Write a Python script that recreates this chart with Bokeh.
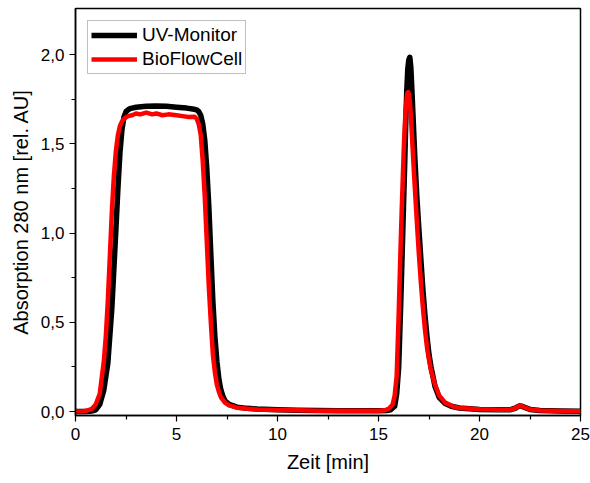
from bokeh.plotting import figure
from bokeh.models import Range1d, FixedTicker, CustomJSTickFormatter, Legend, LegendItem
from bokeh.embed import file_html
from bokeh.resources import INLINE

# UV-Monitor (black)
uv_t = [0, 0.5, 0.8, 1.0, 1.2, 1.4, 1.6, 1.8, 1.9, 2.0, 2.1, 2.2, 2.3, 2.4, 2.5, 2.6, 2.7, 2.8,
        3.0, 3.5, 4.0, 4.5, 5.0, 5.5, 5.8, 6.0, 6.1, 6.2, 6.3, 6.4, 6.5, 6.6, 6.7, 6.8, 6.9, 7.0,
        7.1, 7.2, 7.3, 7.4, 7.6, 8.0, 8.5, 9, 10, 11, 12, 13, 14, 15, 15.4, 15.6, 15.8, 15.9, 16.0,
        16.1, 16.15, 16.2, 16.25, 16.3, 16.35, 16.4, 16.45, 16.5, 16.55, 16.6, 16.65, 16.7, 16.75,
        16.8, 16.9, 17.0, 17.1, 17.2, 17.3, 17.4, 17.5, 17.6, 17.8, 18.0, 18.3, 18.6, 19, 20, 21,
        21.5, 21.8, 21.9, 22.0, 22.1, 22.2, 22.5, 23, 24, 25]
uv_a = [0.0, 0.0, 0.003, 0.01, 0.04, 0.12, 0.27, 0.58, 0.8, 1.02, 1.25, 1.45, 1.58, 1.65, 1.68,
        1.69, 1.697, 1.70, 1.705, 1.71, 1.712, 1.71, 1.705, 1.70, 1.695, 1.69, 1.68, 1.66, 1.61,
        1.52, 1.36, 1.15, 0.88, 0.62, 0.42, 0.28, 0.18, 0.12, 0.085, 0.06, 0.04, 0.025, 0.018,
        0.014, 0.01, 0.008, 0.006, 0.005, 0.005, 0.005, 0.006, 0.01, 0.03, 0.1, 0.25, 0.6, 0.8,
        1.0, 1.2, 1.4, 1.62, 1.8, 1.92, 1.97, 1.985, 1.93, 1.81, 1.68, 1.55, 1.42, 1.2, 1.02, 0.85,
        0.68, 0.54, 0.42, 0.32, 0.25, 0.14, 0.08, 0.045, 0.03, 0.02, 0.012, 0.01, 0.01, 0.02,
        0.028, 0.032, 0.03, 0.025, 0.012, 0.006, 0.003, 0.002]

# BioFlowCell (red)
bfc_t = [0, 0.4, 0.6, 0.8, 1.0, 1.2, 1.4, 1.5, 1.6, 1.7, 1.8, 1.9, 2.0, 2.1, 2.2, 2.3, 2.4, 2.5,
         2.6, 2.8, 3.0, 3.2, 3.5, 3.8, 4.0, 4.3, 4.6, 5.0, 5.3, 5.6, 5.9, 6.0, 6.1, 6.2, 6.3, 6.4,
         6.5, 6.6, 6.7, 6.8, 6.9, 7.0, 7.1, 7.2, 7.4, 7.6, 8, 8.5, 9, 10, 11, 12, 13, 14, 15, 15.3,
         15.5, 15.7, 15.8, 15.9, 16.0, 16.05, 16.1, 16.15, 16.2, 16.25, 16.3, 16.35, 16.4, 16.43,
         16.47, 16.5, 16.55, 16.6, 16.65, 16.7, 16.75, 16.8, 16.9, 17.0, 17.1, 17.2, 17.3, 17.4,
         17.5, 17.6, 17.8, 18.0, 18.3, 18.7, 19, 20, 21, 21.5, 21.8, 21.9, 22.0, 22.1, 22.2, 22.5,
         23, 24, 25]
bfc_a = [0.0, 0.002, 0.006, 0.015, 0.04, 0.1, 0.28, 0.42, 0.62, 0.87, 1.12, 1.32, 1.46, 1.55, 1.6,
         1.625, 1.64, 1.648, 1.655, 1.66, 1.67, 1.665, 1.675, 1.665, 1.67, 1.66, 1.665, 1.66, 1.655,
         1.65, 1.652, 1.64, 1.61, 1.55, 1.4, 1.2, 0.95, 0.7, 0.5, 0.32, 0.22, 0.15, 0.11, 0.08, 0.05,
         0.035, 0.022, 0.016, 0.012, 0.009, 0.007, 0.005, 0.004, 0.004, 0.005, 0.007, 0.015, 0.04,
         0.09, 0.2, 0.55, 0.75, 0.95, 1.13, 1.3, 1.47, 1.6, 1.7, 1.76, 1.785, 1.79, 1.78, 1.74,
         1.66, 1.56, 1.45, 1.35, 1.25, 1.06, 0.88, 0.72, 0.58, 0.46, 0.36, 0.29, 0.23, 0.15, 0.09,
         0.05, 0.028, 0.02, 0.013, 0.01, 0.01, 0.02, 0.029, 0.033, 0.03, 0.025, 0.012, 0.006,
         0.003, 0.002]

x_ticks = [0, 5, 10, 15, 20, 25]
x_minor = [2.5, 7.5, 12.5, 17.5, 22.5]
y_ticks = [0.0, 0.5, 1.0, 1.5, 2.0]
y_minor = [0.25, 0.75, 1.25, 1.75]

FONT = "Liberation Sans"

p = figure(width=590, height=483, output_backend="svg", toolbar_location=None,
           x_range=Range1d(0, 25), y_range=Range1d(-0.022, 2.258),
           min_border_left=75, min_border_right=10, min_border_top=8, min_border_bottom=68)
p.grid.visible = False
p.outline_line_color = "black"
p.outline_line_width = 1.5
p.background_fill_color = "white"
p.border_fill_color = "white"

r1 = p.line(uv_t, uv_a, line_color="black", line_width=5.5, line_join="round")
r2 = p.line(bfc_t, bfc_a, line_color="#ff0000", line_width=4.5, line_join="round")

for ax in (p.xaxis[0], p.yaxis[0]):
    ax.axis_line_color = "black"
    ax.axis_line_width = 1.5
    ax.major_tick_line_color = "black"
    ax.minor_tick_line_color = "black"
    ax.major_tick_line_width = 1.2
    ax.minor_tick_line_width = 1.2
    ax.major_tick_in = 0
    ax.major_tick_out = 6
    ax.minor_tick_in = 0
    ax.minor_tick_out = 4
    ax.major_label_text_font = FONT
    ax.major_label_text_font_size = "17px"
    ax.major_label_text_color = "black"
    ax.axis_label_text_font = FONT
    ax.axis_label_text_font_size = "20px"
    ax.axis_label_text_font_style = "normal"
    ax.axis_label_text_color = "black"

p.xaxis.ticker = FixedTicker(ticks=x_ticks, minor_ticks=x_minor)
p.yaxis.ticker = FixedTicker(ticks=y_ticks, minor_ticks=y_minor)
p.yaxis.formatter = CustomJSTickFormatter(code="return tick.toFixed(1).replace('.', ',');")
p.xaxis.major_label_standoff = 6
p.yaxis.major_label_standoff = 5
p.xaxis.axis_label = "Zeit [min]"
p.yaxis.axis_label = "Absorption 280 nm [rel. AU]"
p.xaxis.axis_label_standoff = 8
p.yaxis.axis_label_standoff = 6

legend = Legend(items=[LegendItem(label="UV-Monitor", renderers=[r1]),
                       LegendItem(label="BioFlowCell", renderers=[r2])],
                location="top_left")
legend.margin = 12
legend.padding = 3
legend.spacing = 2
legend.glyph_width = 46
legend.glyph_height = 22
legend.label_height = 22
legend.label_standoff = 5
legend.label_text_font = FONT
legend.label_text_font_size = "19px"
legend.label_text_color = "black"
legend.border_line_color = "#7f7f7f"
legend.border_line_width = 1
legend.background_fill_alpha = 1.0
p.add_layout(legend)

open("out.html", "w").write(file_html(p, INLINE))
